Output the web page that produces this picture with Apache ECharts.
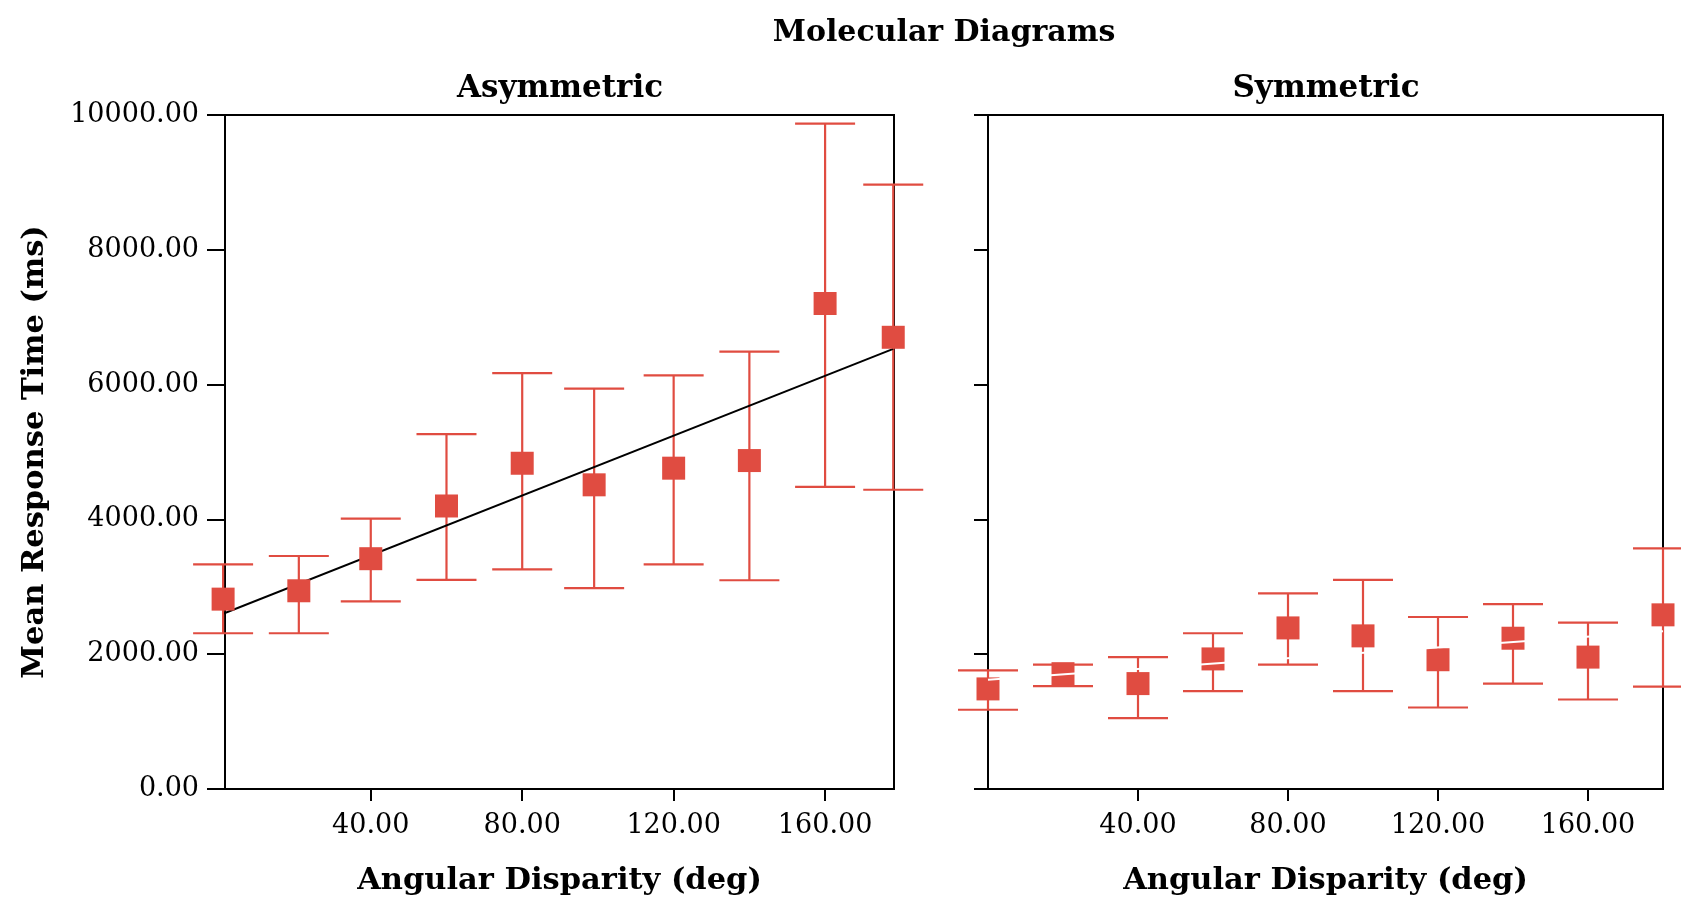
<!DOCTYPE html>
<html><head><meta charset="utf-8">
<script src="https://cdn.jsdelivr.net/npm/echarts@6/dist/echarts.min.js"></script>
<style>html,body{margin:0;padding:0;background:#fff}#c{width:1681px;height:902px}</style>
</head><body><div id="c"></div>
<script>
const titleText = 'Molecular Diagrams';
const panelNames = ['Asymmetric', 'Symmetric'];
const xAxisName = 'Angular Disparity (deg)';
const yAxisName = 'Mean Response Time (ms)';
const xTickValues = [40, 80, 120, 160];

const asymAngles = [1, 21, 40, 60, 80, 99, 120, 140, 160, 178];
const asymMeans  = [2817, 2941, 3417, 4199, 4833, 4513, 4760, 4873, 7203, 6702];
const asymLower  = [2311, 2311, 2783, 3103, 3260, 2979, 3333, 3097, 4484, 4440];
const asymUpper  = [3333, 3457, 4012, 5265, 6171, 5940, 6136, 6490, 9873, 8968];
const asymFitX = [1, 178];
const asymFitY = [2600, 6530];

const symAngles = [0, 20, 40, 60, 80, 100, 120, 140, 160, 180];
const symMeans  = [1485, 1711, 1564, 1930, 2390, 2272, 1918, 2237, 1957, 2584];
const symLower  = [1176, 1525, 1053, 1451, 1844, 1451, 1209, 1564, 1328, 1519];
const symUpper  = [1761, 1844, 1957, 2311, 2901, 3103, 2552, 2744, 2469, 3569];
const symFitX = [0, 180];
const symFitY = [1620, 2340];

const RED = '#e04c41';
const FONT = '"DejaVu Serif", "Liberation Serif", serif';
const fmt = v => Number(v).toFixed(2);

const chart = echarts.init(document.getElementById('c'), null, {renderer: 'canvas'});

function errorBars(xs, lo, hi, idx) {
  return {
    type: 'custom', xAxisIndex: idx, yAxisIndex: idx, z: 2, clip: false,
    data: xs.map((x, i) => [x, lo[i], hi[i]]),
    encode: {x: 0, y: [1, 2]},
    renderItem(params, api) {
      const top = api.coord([api.value(0), api.value(2)]);
      const bot = api.coord([api.value(0), api.value(1)]);
      const hw = 30;
      const style = {stroke: RED, lineWidth: 2.2};
      return {type: 'group', children: [
        {type: 'line', shape: {x1: top[0], y1: top[1], x2: bot[0], y2: bot[1]}, style},
        {type: 'line', shape: {x1: top[0] - hw, y1: top[1], x2: top[0] + hw, y2: top[1]}, style},
        {type: 'line', shape: {x1: bot[0] - hw, y1: bot[1], x2: bot[0] + hw, y2: bot[1]}, style}
      ]};
    }
  };
}
function points(xs, ys, idx) {
  return {type: 'scatter', xAxisIndex: idx, yAxisIndex: idx, z: 4, clip: false,
    symbol: 'rect', symbolSize: 23, itemStyle: {color: RED, opacity: 1},
    data: xs.map((x, i) => [x, ys[i]])};
}
function fit(xs, ys, idx, color, z) {
  return {type: 'line', xAxisIndex: idx, yAxisIndex: idx, z, clip: false,
    symbol: 'none', lineStyle: {color, width: 2}, data: xs.map((x, i) => [x, ys[i]])};
}

const axisLineStyle = {color: '#000', width: 2};
function xAxis(idx, min, max) {
  return {
    type: 'value', gridIndex: idx, min, max,
    name: xAxisName, nameLocation: 'middle', nameGap: 77,
    nameTextStyle: {fontFamily: FONT, fontWeight: 'bold', fontSize: 30.5, color: '#000'},
    axisLine: {show: true, lineStyle: axisLineStyle},
    axisTick: {show: true, length: 12, lineStyle: axisLineStyle, customValues: xTickValues},
    axisLabel: {show: true, customValues: xTickValues, formatter: fmt, margin: 23,
      fontFamily: FONT, fontSize: 27, color: '#000'},
    splitLine: {show: false}
  };
}
function yAxis(idx, showLabels, tickLen) {
  return {
    type: 'value', gridIndex: idx, min: 0, max: 10000, interval: 2000,
    name: showLabels ? yAxisName : '', nameLocation: 'middle', nameGap: 174, nameRotate: 90,
    nameTextStyle: {fontFamily: FONT, fontWeight: 'bold', fontSize: 30.5, color: '#000'},
    axisLine: {show: true, lineStyle: axisLineStyle},
    axisTick: {show: true, length: tickLen, lineStyle: axisLineStyle},
    axisLabel: {show: showLabels, formatter: fmt, margin: 26,
      fontFamily: FONT, fontSize: 27, color: '#000'},
    splitLine: {show: false}
  };
}

chart.setOption({
  animation: false,
  backgroundColor: '#fff',
  graphic: [
    {type: 'text', x: 944, y: 33, style: {text: titleText, fill: '#000', font: 'bold 30px ' + FONT, align: 'center', verticalAlign: 'middle'}},
    {type: 'text', x: 560, y: 89, style: {text: panelNames[0], fill: '#000', font: 'bold 31px ' + FONT, align: 'center', verticalAlign: 'middle'}},
    {type: 'text', x: 1326, y: 89, style: {text: panelNames[1], fill: '#000', font: 'bold 31px ' + FONT, align: 'center', verticalAlign: 'middle'}}
  ],
  grid: [
    {left: 225, top: 115, width: 669, height: 678, show: true, borderColor: '#000', borderWidth: 2, containLabel: false},
    {left: 988, top: 115, width: 675, height: 678, show: true, borderColor: '#000', borderWidth: 2, containLabel: false}
  ],
  xAxis: [xAxis(0, 1.5, 178.2), xAxis(1, 0, 180)],
  yAxis: [yAxis(0, true, 18), yAxis(1, false, 14)],
  series: [
    errorBars(asymAngles, asymLower, asymUpper, 0),
    fit(asymFitX, asymFitY, 0, '#000', 3),
    points(asymAngles, asymMeans, 0),
    errorBars(symAngles, symLower, symUpper, 1),
    points(symAngles, symMeans, 1),
    fit(symFitX, symFitY, 1, '#fff', 5)
  ]
});
</script></body></html>
